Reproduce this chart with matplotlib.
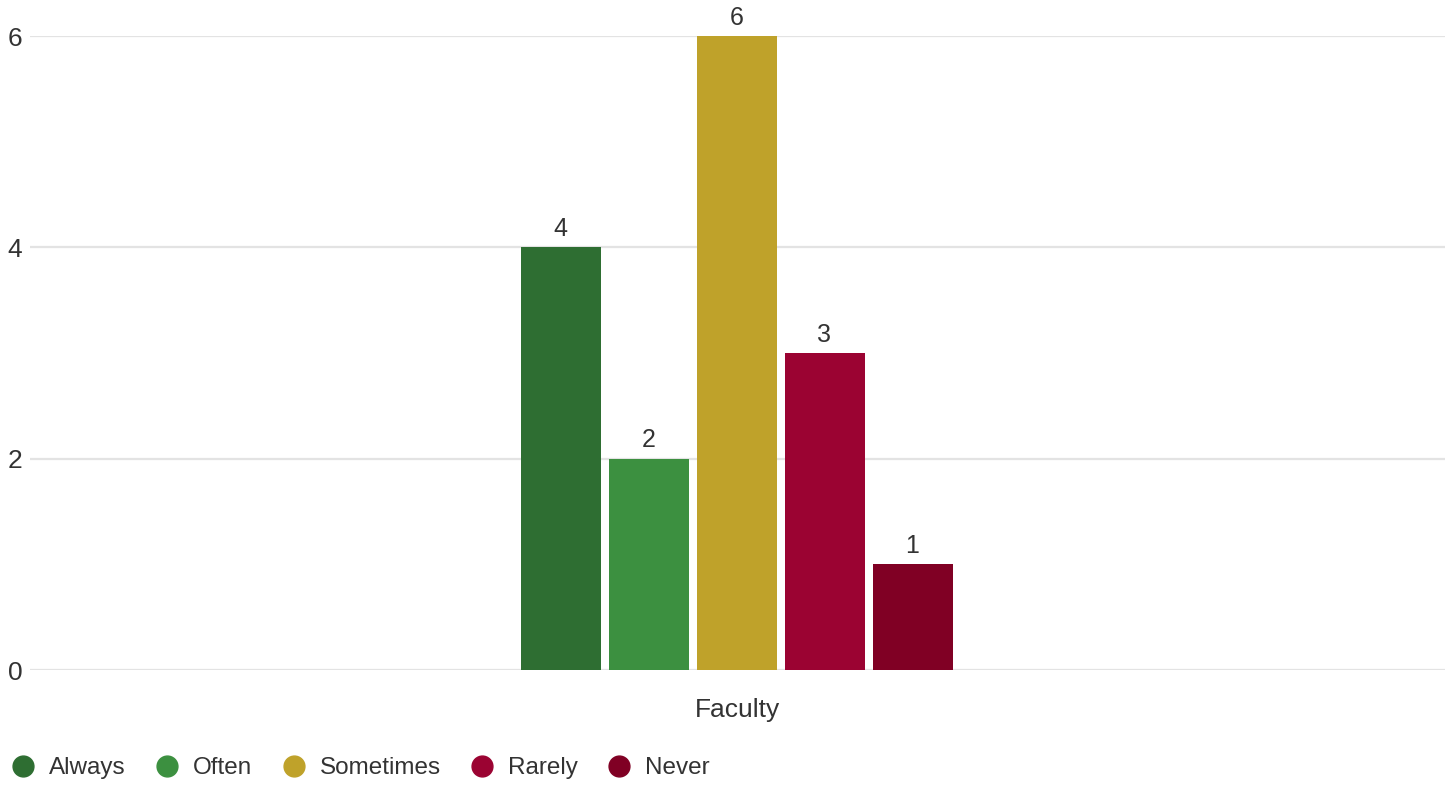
import matplotlib.pyplot as plt
from matplotlib.lines import Line2D

plt.rcParams["font.family"] = ["Liberation Sans", "DejaVu Sans"]

categories = ["Faculty"]
series = ["Always", "Often", "Sometimes", "Rarely", "Never"]
values = [4, 2, 6, 3, 1]
colors = ["#2e6e32", "#3c9040", "#bfa22a", "#9b0332", "#800024"]
yticks = [0, 2, 4, 6]

TEXT = "#333333"

fig = plt.figure(figsize=(14.51, 7.86), dpi=100)
ax = fig.add_axes([30 / 1451, 116 / 786, 1415 / 1451, 634 / 786])

bar_w = 80 / 1415
step = 88 / 1415
n = len(series)
for i, (name, v, c) in enumerate(zip(series, values, colors)):
    x = (i - (n - 1) / 2) * step - 1 / 1415
    ax.bar(x, v, width=bar_w, color=c, zorder=2, label=name)
    ax.text(x, v + 0.06, str(v), ha="center", va="bottom", fontsize=18, color=TEXT, clip_on=False)

ax.set_xlim(-0.5, 0.5)
ax.set_ylim(0, 6)
ax.set_yticks(yticks)
ax.set_yticklabels([str(t) for t in yticks], fontsize=19, color=TEXT)
ax.set_xticks([0])
ax.set_xticklabels(categories, fontsize=19, color=TEXT)
ax.tick_params(axis="y", length=0, pad=16)
ax.tick_params(axis="x", length=0, pad=20)
for lbl in ax.get_yticklabels():
    lbl.set_horizontalalignment("left")
ax.grid(axis="y", color="#e3e3e3", linewidth=1.6, zorder=0)
for s in ax.spines.values():
    s.set_visible(False)

handles = [Line2D([], [], marker="o", linestyle="none", markersize=15, color=c) for c in colors]
fig.legend(handles, series, loc="center left", bbox_to_anchor=(-1 / 1451, 18 / 786), ncol=n,
           frameon=False, fontsize=17.5, handletextpad=0.47, columnspacing=1.1,
           labelcolor=TEXT, borderaxespad=0, handlelength=1.2)

fig.savefig("out.png", dpi=100)
